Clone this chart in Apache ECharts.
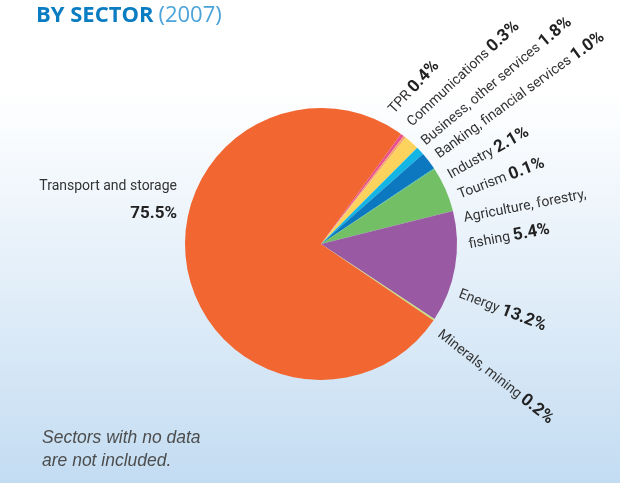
<!DOCTYPE html>
<html>
<head>
<meta charset="utf-8">
<script src="https://cdn.jsdelivr.net/npm/echarts@6/dist/echarts.min.js"></script>
<style>
  html, body { margin: 0; padding: 0; background: #fff; }
  #chart { width: 620px; height: 483px; }
</style>
</head>
<body>
<div id="chart"></div>
<script>
// ---- data ----
const categories = [
  'TPR',
  'Communications',
  'Business, other services',
  'Banking, financial services',
  'Industry',
  'Tourism',
  'Agriculture, forestry,\nfishing',
  'Energy',
  'Minerals, mining',
  'Transport and storage'
];
const shares = [0.4, 0.3, 1.8, 1.0, 2.1, 0.1, 5.4, 13.2, 0.2, 75.5];
const titleMain = 'BY SECTOR';
const titleYear = '(2007)';
const noteText = 'Sectors with no data\nare not included.';

// ---- styles / layout ----
const sliceColors = ['#e9508f', '#f7a46e', '#fdd35d', '#13b5e4', '#0b78c0', '#22a7a0',
                     '#72bf65', '#9a59a3', '#c8de78', '#f26632'];
const CX = 321, CY = 244, R = 136;
const labelAngle  = [62, 53.5, 44.6, 37.2, 28.1, 19.5, 4.9, -19.8, -37, 163.0];
const labelDist   = [150, 149, 144, 146, 145, 146, 146, 147, 148, 150.6];
const labelRotate = [47, 43, 40, 36, 29.5, 21, 11, -21, -38, 0];
const valueSep    = [' ', ' ', ' ', ' ', ' ', ' ', ' ', ' ', ' ', '\n'];
const LABEL_FONT = 'Roboto, sans-serif';

const chart = echarts.init(document.getElementById('chart'), null, { renderer: 'canvas' });

const option = {
  animation: false,
  backgroundColor: {
    type: 'linear', x: 0, y: 0, x2: 0, y2: 1,
    colorStops: [
      { offset: 0, color: '#ffffff' },
      { offset: 0.19, color: '#ffffff' },
      { offset: 0.5, color: '#e9f2fa' },
      { offset: 1, color: '#c3dcf2' }
    ]
  },
  title: [
    {
      text: '{a|' + titleMain + '} {b|' + titleYear + '}',
      left: 36, top: 1, padding: 0,
      textStyle: {
        rich: {
          a: { fontFamily: '"Open Sans", sans-serif', fontWeight: 'bold', fontSize: 22, color: '#0a7cc2', lineHeight: 30 },
          b: { fontFamily: '"Open Sans", sans-serif', fontWeight: 'normal', fontSize: 22, color: '#4aa3d9', lineHeight: 30 }
        }
      }
    },
    {
      text: noteText,
      left: 42, top: 426, padding: 0,
      textStyle: {
        fontFamily: '"Liberation Sans", sans-serif', fontStyle: 'italic', fontWeight: 'normal',
        fontSize: 17.5, lineHeight: 23.4, color: '#4d4d4d'
      }
    }
  ],
  series: [{
    type: 'pie',
    center: [CX, CY],
    radius: [0, R],
    startAngle: 54,
    clockwise: true,
    avoidLabelOverlap: false,
    itemStyle: { borderWidth: 0 },
    emphasis: { disabled: true },
    labelLine: { show: false },
    label: {
      show: true,
      position: 'outside',
      formatter: function (p) {
        return '{n|' + p.name + '}' + valueSep[p.dataIndex] + '{v|' + p.value.toFixed(1) + '%}';
      },
      rich: {
        n: { fontFamily: LABEL_FONT, fontSize: 14, color: '#333333', lineHeight: 27 },
        v: { fontFamily: LABEL_FONT, fontSize: 17, fontWeight: 'bold', color: '#222222', lineHeight: 27 }
      }
    },
    labelLayout: function (p) {
      const i = p.dataIndex;
      const a = labelAngle[i] * Math.PI / 180;
      return {
        x: CX + labelDist[i] * Math.cos(a),
        y: CY - labelDist[i] * Math.sin(a),
        rotate: labelRotate[i],
        align: i === 9 ? 'right' : 'left',
        verticalAlign: 'middle'
      };
    },
    data: categories.map(function (c, i) {
      return { name: c, value: shares[i], itemStyle: { color: sliceColors[i] } };
    })
  }]
};
chart.setOption(option);
</script>
</body>
</html>
